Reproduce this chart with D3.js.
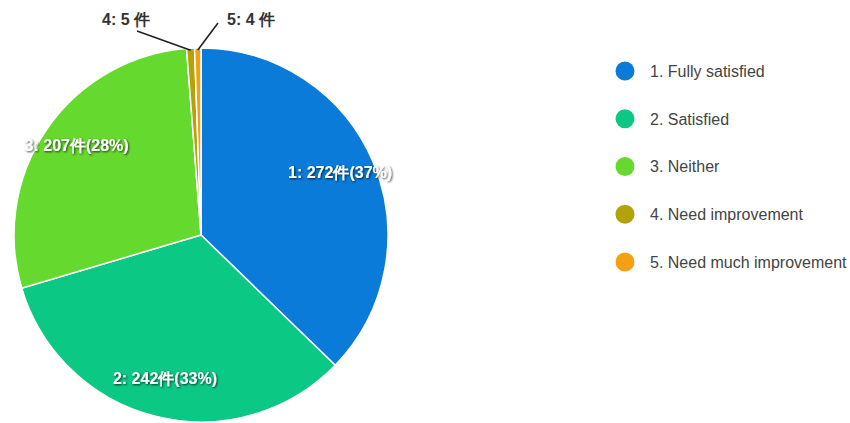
<!DOCTYPE html>
<html><head><meta charset="utf-8">
<script src="https://cdn.jsdelivr.net/npm/d3@7"></script>
<style>
html,body{margin:0;padding:0;background:#fff;}
svg{display:block;font-family:"Liberation Sans",Arial,sans-serif;}
</style></head>
<body><svg id="c" width="850" height="423"></svg>
<script>
const categories = ["1. Fully satisfied","2. Satisfied","3. Neither","4. Need improvement","5. Need much improvement"];
const shortLabels = ["1","2","3","4","5"];
const counts = [272, 242, 207, 5, 4];
const colors = ["#0A7BD9","#0BC985","#66D92F","#B3A30B","#F5A010"];

const svg = d3.select("#c");
const cx = 201, cy = 235, R = 187;
const total = d3.sum(counts);
const data = counts.map((v,i)=>({v,i}));
const pie = d3.pie().value(d=>d.v).sort(null);
const arcs = pie(data);
const arc = d3.arc().innerRadius(0).outerRadius(R);
const labelArc = d3.arc().innerRadius(151).outerRadius(151);

const defs = svg.append("defs");
const f = defs.append("filter").attr("id","sh").attr("x","-10%").attr("y","-30%").attr("width","130%").attr("height","180%");
f.append("feDropShadow").attr("dx",1).attr("dy",1).attr("stdDeviation",0.9).attr("flood-color","#000").attr("flood-opacity",0.75);

const g = svg.append("g").attr("transform",`translate(${cx},${cy})`);
g.selectAll("path.s").data(arcs).join("path").attr("class","s")
  .attr("d",arc).attr("fill",d=>colors[d.data.i])
  .attr("stroke","#fff").attr("stroke-width",1.5);

// inside labels for big slices
g.selectAll("text.in").data(arcs.filter(d=>d.data.v/total>0.05)).join("text").attr("class","in")
  .attr("transform",d=>`translate(${labelArc.centroid(d)})`)
  .attr("text-anchor","middle").attr("dy","0.12em")
  .attr("font-size",16).attr("font-weight","bold").attr("fill","#fff")
  .attr("filter","url(#sh)")
  .text(d=>`${shortLabels[d.data.i]}: ${d.data.v}件(${Math.round(d.data.v/total*100)}%)`);

// outside labels for small slices
const small = arcs.filter(d=>d.data.v/total<=0.05);
const outPos = [{x:-99,y:-210,lx:-64,ly:-204},{x:26,y:-210,lx:17,ly:-212}];
small.forEach((d,k)=>{
  const a = (d.startAngle+d.endAngle)/2;
  const px = Math.sin(a)*(R-2), py = -Math.cos(a)*(R-2);
  const p = outPos[k];
  g.append("line").attr("x1",px).attr("y1",py).attr("x2",p.lx).attr("y2",p.ly)
    .attr("stroke","#222").attr("stroke-width",1.6);
  g.append("text").attr("x",p.x).attr("y",p.y)
    .attr("font-size",16).attr("font-weight","bold").attr("fill","#333")
    .text(`${shortLabels[d.data.i]}: ${d.data.v} 件`);
});

// legend
const ly = d3.scalePoint().domain(categories).range([71,262]);
const lg = svg.append("g");
lg.selectAll("circle").data(categories).join("circle")
  .attr("cx",625).attr("cy",d=>ly(d)).attr("r",9.5)
  .attr("fill",(d,i)=>colors[i]);
lg.selectAll("text").data(categories).join("text")
  .attr("x",650).attr("y",d=>ly(d)).attr("dy","0.36em")
  .attr("font-size",16).attr("fill","#444")
  .text(d=>d);
</script></body></html>
